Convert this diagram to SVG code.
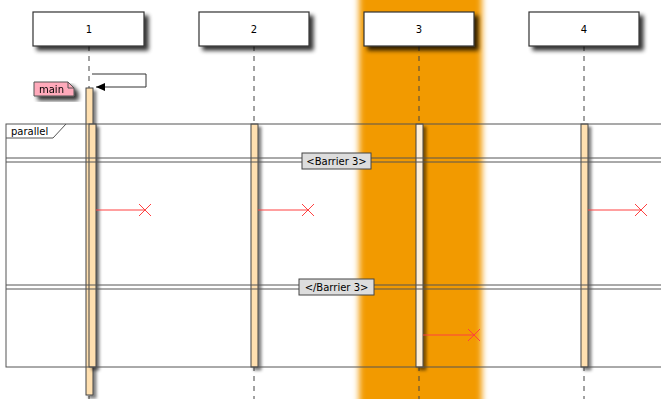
<svg xmlns="http://www.w3.org/2000/svg" width="661" height="399" viewBox="0 0 661 399">
  <defs>
    <filter id="shadow" x="-20%" y="-20%" width="150%" height="160%">
      <feGaussianBlur in="SourceAlpha" stdDeviation="2"/>
      <feOffset dx="4" dy="4" result="b"/>
      <feComponentTransfer><feFuncA type="linear" slope="0.8"/></feComponentTransfer>
      <feMerge><feMergeNode/><feMergeNode in="SourceGraphic"/></feMerge>
    </filter>
    <filter id="ashadow" x="-100%" y="-5%" width="300%" height="110%">
      <feGaussianBlur in="SourceAlpha" stdDeviation="1.5"/>
      <feOffset dx="3" dy="3" result="b"/>
      <feComponentTransfer><feFuncA type="linear" slope="0.5"/></feComponentTransfer>
      <feMerge><feMergeNode/><feMergeNode in="SourceGraphic"/></feMerge>
    </filter>
    <filter id="soft" x="-20%" y="-5%" width="140%" height="110%">
      <feGaussianBlur stdDeviation="3"/>
    </filter>
    <marker id="arrow" markerWidth="10" markerHeight="10" refX="9" refY="4" orient="auto" markerUnits="userSpaceOnUse">
      <path d="M0,0 L9,4 L0,8 Z" fill="#000"/>
    </marker>
  </defs>
  <style>
    text { font-family: "DejaVu Sans", "Liberation Sans", sans-serif; font-size: 10px; fill: #000; }
    .box { fill: #fff; stroke: #333; stroke-width: 1.2; }
    .life { stroke: #444; stroke-width: 1; stroke-dasharray: 5,5; fill: none; }
    .act { fill: #FFE0B0; stroke: #444; stroke-width: 1; }
    .frame { fill: none; stroke: #555; stroke-width: 1; }
    .bar { stroke: #555; stroke-width: 1; fill: none; }
    .blabel { fill: #DDDDDD; stroke: #444; stroke-width: 1; }
    .lost { stroke: #FF4040; stroke-width: 1; fill: none; }
    .msg { stroke: #333; stroke-width: 1; fill: none; }
  </style>

  <rect width="661" height="399" fill="#fff"/>

  <!-- highlighted column behind participant 3 -->
  <rect x="359" y="-10" width="123" height="420" fill="#F29A00" filter="url(#soft)"/>

  <!-- lifelines -->
  <g id="lifelines">
    <line class="life" x1="89" y1="46" x2="89" y2="399"/>
    <line class="life" x1="254" y1="46" x2="254" y2="399"/>
    <line class="life" x1="419" y1="46" x2="419" y2="399"/>
    <line class="life" x1="584" y1="46" x2="584" y2="399"/>
  </g>

  <!-- participants -->
  <g id="p1"><rect class="box" x="33" y="12" width="111" height="34" filter="url(#shadow)"/><text x="89" y="33" text-anchor="middle">1</text></g>
  <g id="p2"><rect class="box" x="199" y="12" width="110" height="34" filter="url(#shadow)"/><text x="254" y="33" text-anchor="middle">2</text></g>
  <g id="p3"><rect class="box" x="364" y="12" width="110" height="34" filter="url(#shadow)"/><text x="419" y="33" text-anchor="middle">3</text></g>
  <g id="p4"><rect class="box" x="529" y="12" width="110" height="34" filter="url(#shadow)"/><text x="584" y="33" text-anchor="middle">4</text></g>

  <!-- activations -->
  <g id="activations">
    <rect class="act" x="86" y="88" width="7" height="307" filter="url(#ashadow)"/>
    <rect class="act" x="89" y="124" width="7" height="243" filter="url(#ashadow)"/>
    <rect class="act" x="251" y="124" width="7" height="243" filter="url(#ashadow)"/>
    <rect class="act" x="416" y="124" width="7" height="243" style="fill:#FFEFD8" filter="url(#ashadow)"/>
    <rect class="act" x="581" y="124" width="7" height="243" filter="url(#ashadow)"/>
  </g>

  <!-- note -->
  <g id="note-main" filter="url(#shadow)">
    <path d="M34,82 H68 L74,88 V96 H34 Z" fill="#FFAABB" stroke="#555" stroke-width="1"/>
    <path d="M68,82 V88 H74" fill="none" stroke="#555" stroke-width="1"/>
    <text x="39" y="93">main</text>
  </g>

  <!-- parallel frame -->
  <g id="frame-parallel">
    <rect class="frame" x="6" y="124" width="670" height="243"/>
    <path class="frame" d="M6,138 H53 L66,124"/>
    <text x="11" y="135">parallel</text>
  </g>

  <!-- barriers -->
  <g id="barrier-open">
    <line class="bar" x1="6" y1="158" x2="661" y2="158"/>
    <line class="bar" x1="6" y1="162" x2="661" y2="162"/>
    <rect class="blabel" x="302" y="153" width="69" height="16"/>
    <text x="336.5" y="165" text-anchor="middle">&lt;Barrier 3&gt;</text>
  </g>
  <g id="barrier-close">
    <line class="bar" x1="6" y1="285" x2="661" y2="285"/>
    <line class="bar" x1="6" y1="289" x2="661" y2="289"/>
    <rect class="blabel" x="299" y="279" width="75" height="16"/>
    <text x="336.5" y="291" text-anchor="middle">&lt;/Barrier 3&gt;</text>
  </g>

  <!-- connectors -->
  <g id="connectors">
    <path class="msg" d="M92,74 H146 V87 H96" marker-end="url(#arrow)"/>
    <g class="lost">
      <line x1="96" y1="210" x2="145" y2="210"/>
      <path d="M139,204 L151,216 M151,204 L139,216"/>
      <line x1="258" y1="210" x2="308" y2="210"/>
      <path d="M302,204 L314,216 M314,204 L302,216"/>
      <line x1="588" y1="210" x2="641" y2="210"/>
      <path d="M635,204 L647,216 M647,204 L635,216"/>
      <line x1="423" y1="335" x2="474" y2="335"/>
      <path d="M468,329 L480,341 M480,329 L468,341"/>
    </g>
  </g>
</svg>
